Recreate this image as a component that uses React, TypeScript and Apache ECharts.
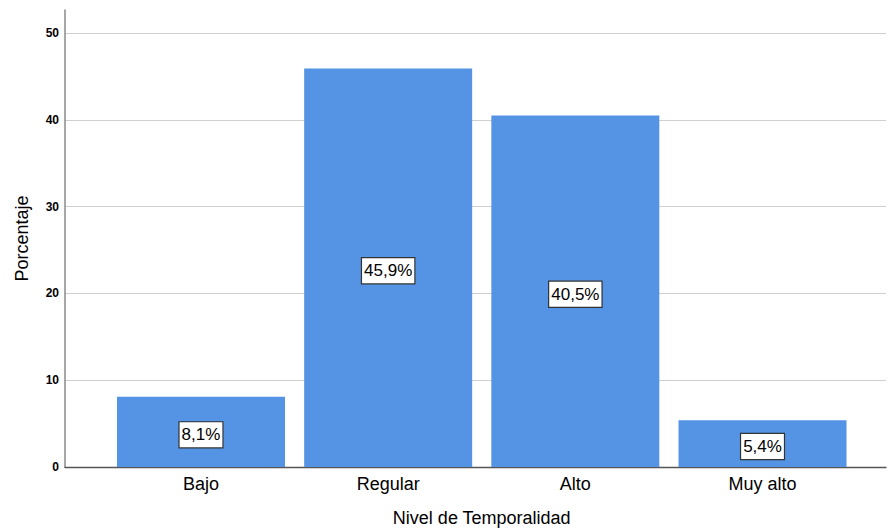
import React, { useEffect, useRef } from "react";
import * as echarts from "echarts";

const categories = ["Bajo", "Regular", "Alto", "Muy alto"];
const percentages = [8.1, 45.9, 40.5, 5.4];
const yTicks = [0, 10, 20, 30, 40, 50];
const yMax = 52.65;

const FONT = "'Liberation Sans', Arial, sans-serif";

export default function App() {
  const ref = useRef<HTMLDivElement>(null);
  useEffect(() => {
    document.body.style.margin = "0";
    if (!ref.current) return;
    const chart = echarts.init(ref.current, null, { renderer: "svg" });
    chart.setOption({
      animation: false,
      backgroundColor: "#ffffff",
      grid: [
        { left: 65, right: 1, top: 10, bottom: 63, outerBoundsMode: "none", containLabel: false },
        { left: 107.4, right: 30.9, top: 10, bottom: 63, outerBoundsMode: "none", containLabel: false },
      ],
      xAxis: [
        {
          type: "value",
          gridIndex: 0,
          min: 0,
          max: 1,
          axisLine: { show: true, lineStyle: { color: "#555555", width: 1.3 } },
          axisTick: { show: false },
          axisLabel: { show: false },
          splitLine: { show: false },
        },
        {
          type: "category",
          gridIndex: 1,
          data: categories,
          axisLine: { show: false },
          axisTick: { show: false },
          axisLabel: {
            color: "#000000",
            fontFamily: FONT,
            fontSize: 18,
            margin: 8,
          },
          name: "Nivel de Temporalidad",
          nameLocation: "middle",
          nameGap: 42,
          nameTextStyle: { color: "#000000", fontFamily: FONT, fontSize: 18 },
        },
      ],
      yAxis: [
        {
          type: "value",
          gridIndex: 0,
          min: 0,
          max: yMax,
          interval: 10,
          axisLine: { show: true, lineStyle: { color: "#8a8a8a", width: 1.5 } },
          axisTick: { show: false },
          axisLabel: {
            color: "#000000",
            fontFamily: FONT,
            fontSize: 12,
            fontWeight: "bold",
            margin: 6,
            showMaxLabel: false,
            formatter: (v: number) => (yTicks.includes(v) ? String(v) : ""),
          },
          splitLine: {
            show: true,
            showMaxLine: false,
            lineStyle: { color: "#cfcfcf", width: 1 },
          },
          name: "Porcentaje",
          nameLocation: "middle",
          nameGap: 34,
          nameRotate: 90,
          nameTextStyle: { color: "#000000", fontFamily: FONT, fontSize: 18 },
        },
        {
          type: "value",
          gridIndex: 1,
          min: 0,
          max: yMax,
          show: false,
          splitLine: { show: false },
        },
      ],
      series: [
        {
          type: "bar",
          xAxisIndex: 1,
          yAxisIndex: 1,
          data: percentages,
          barWidth: 168,
          itemStyle: { color: "#5594e4" },
          label: {
            show: true,
            position: "inside",
            offset: [0, 3],
            formatter: (p: any) => String(p.value).replace(".", ",") + "%",
            color: "#000000",
            fontFamily: FONT,
            fontSize: 17,
            backgroundColor: "#ffffff",
            borderColor: "#333333",
            borderWidth: 1.2,
            padding: [5, 2, 3, 2],
          },
        },
      ],
    });
    return () => chart.dispose();
  }, []);
  return <div ref={ref} style={{ width: 887, height: 530 }} />;
}
